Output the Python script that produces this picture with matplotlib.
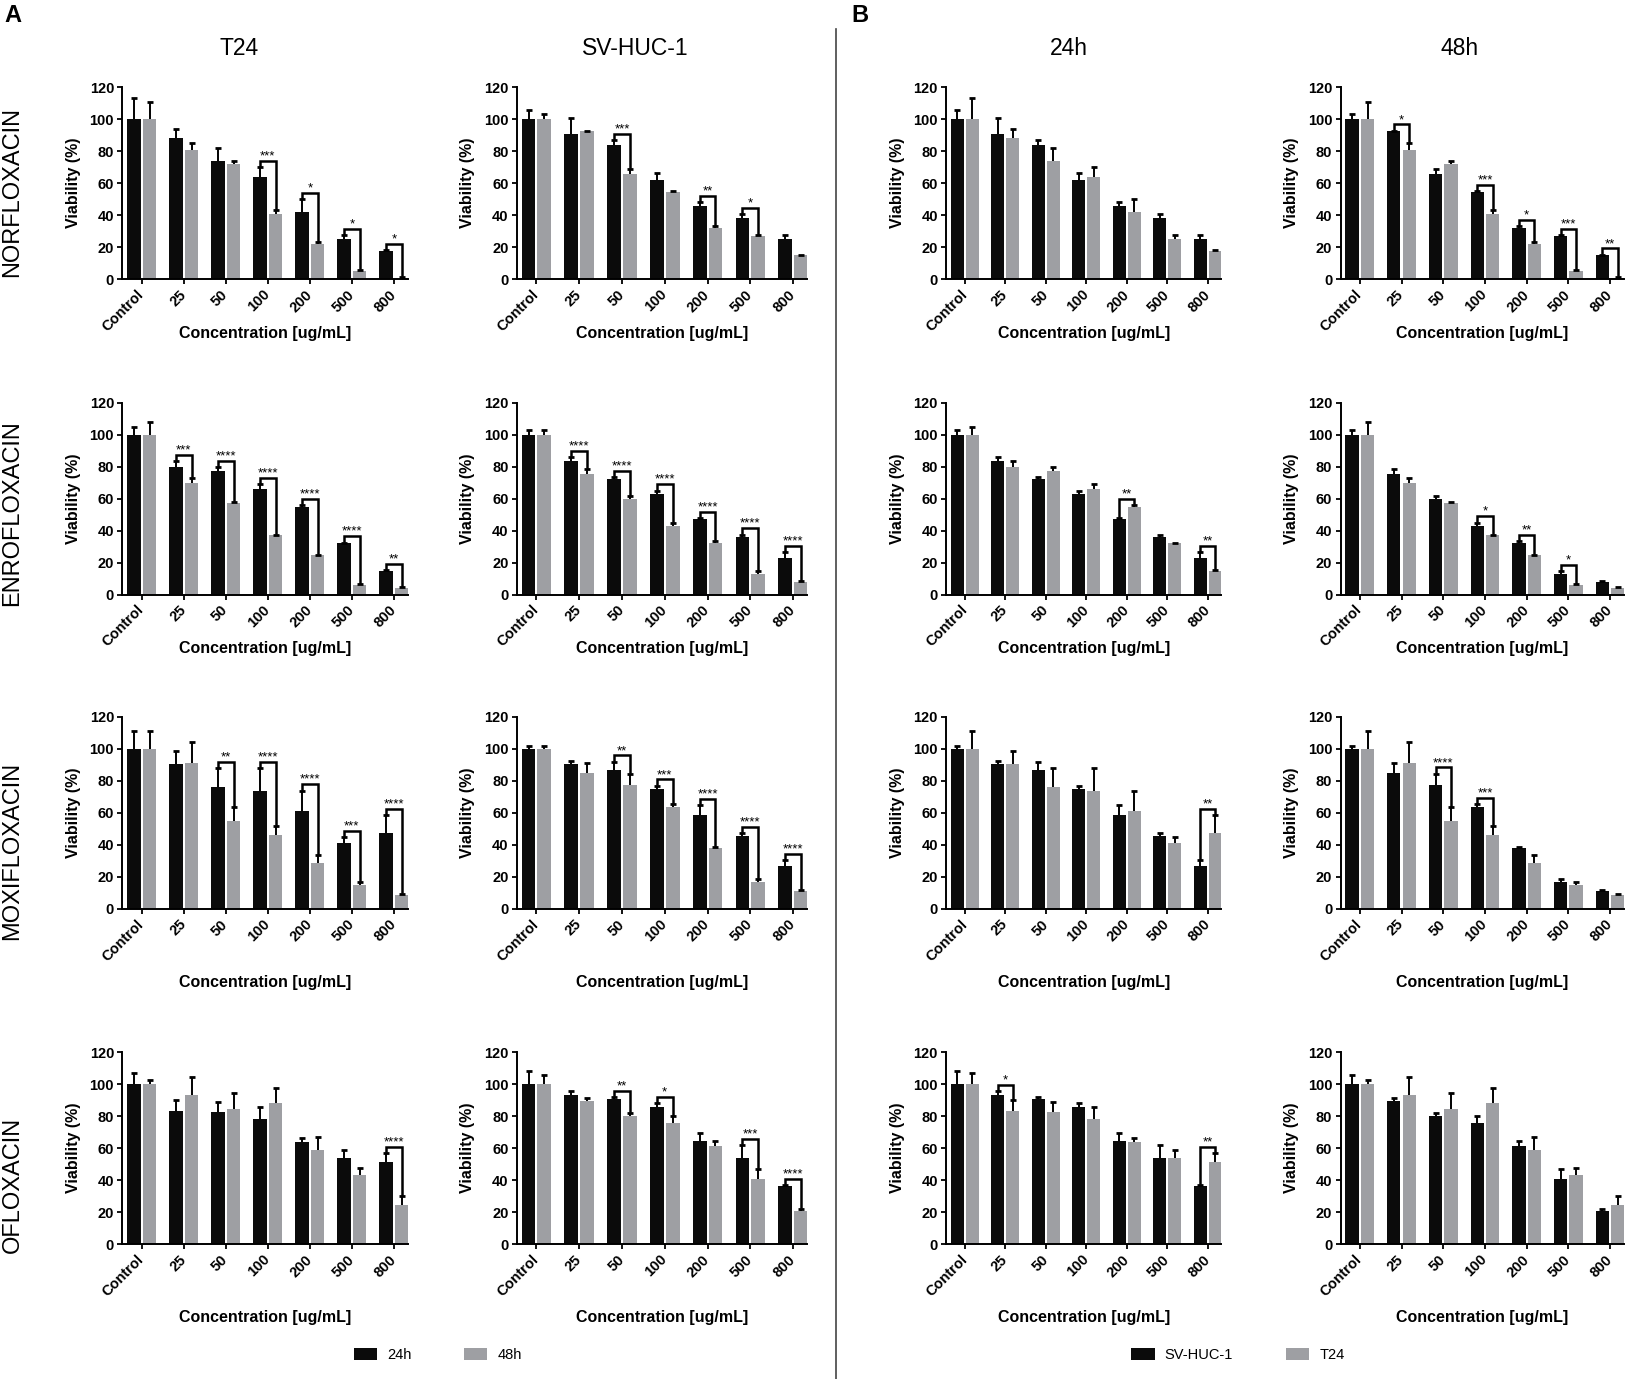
import numpy as np
import matplotlib.pyplot as plt
from matplotlib.patches import Patch

plt.rcParams['font.family'] = ['Liberation Sans', 'DejaVu Sans']

conc = ['Control', '25', '50', '100', '200', '500', '800']
drugs = ['NORFLOXACIN', 'ENROFLOXACIN', 'MOXIFLOXACIN', 'OFLOXACIN']

# viability (%) means and SD
t24_24h = {
    'NORFLOXACIN': [100, 88, 74, 64, 42, 25, 17.5],
    'ENROFLOXACIN': [100, 80, 77, 66, 55, 32, 15],
    'MOXIFLOXACIN': [100, 90.5, 76, 73.5, 61, 41.5, 47.5],
    'OFLOXACIN': [100, 83, 82.5, 78, 64, 54, 51.5],
}
t24_24h_err = {
    'NORFLOXACIN': [13, 6, 8, 6, 8, 2.5, 0.5],
    'ENROFLOXACIN': [5, 3.5, 2.5, 3, 1, 0.5, 0.3],
    'MOXIFLOXACIN': [11, 8, 12, 14.5, 13, 3.5, 11],
    'OFLOXACIN': [7, 7, 6.5, 8, 2.5, 5, 5.5],
}
t24_48h = {
    'NORFLOXACIN': [100, 81, 72, 41, 22, 5, 1],
    'ENROFLOXACIN': [100, 70, 57, 37, 24.5, 6, 4],
    'MOXIFLOXACIN': [100, 91.5, 55, 46.5, 28.5, 15, 9],
    'OFLOXACIN': [100, 93, 84.5, 88.5, 59, 43, 24.5],
}
t24_48h_err = {
    'NORFLOXACIN': [11, 4, 2, 2.5, 1, 0.8, 0.3],
    'ENROFLOXACIN': [8, 3, 1, 0.5, 0.3, 0.3, 0.5],
    'MOXIFLOXACIN': [11, 13, 8.5, 5.5, 5, 2, 0.5],
    'OFLOXACIN': [2.5, 11.5, 10, 9, 8, 4.5, 5.5],
}
sv_24h = {
    'NORFLOXACIN': [100, 91, 84, 62, 46, 38, 25],
    'ENROFLOXACIN': [100, 83.5, 72.5, 63, 47.5, 36, 23],
    'MOXIFLOXACIN': [100, 90.5, 87, 75, 59, 45.5, 27],
    'OFLOXACIN': [100, 93, 91, 85.5, 64.5, 54, 36.5],
}
sv_24h_err = {
    'NORFLOXACIN': [6, 10, 3, 4.5, 2, 2.5, 2.5],
    'ENROFLOXACIN': [3, 2.5, 1, 2, 0.3, 1.5, 3.5],
    'MOXIFLOXACIN': [2, 2, 5, 2, 6, 2, 3.5],
    'OFLOXACIN': [8, 2.5, 1, 2.5, 5, 8, 0.5],
}
sv_48h = {
    'NORFLOXACIN': [100, 92.5, 66, 54.5, 32, 27, 15],
    'ENROFLOXACIN': [100, 75.5, 59.5, 43, 32, 13, 8],
    'MOXIFLOXACIN': [100, 85, 77.5, 64, 38, 17, 11.5],
    'OFLOXACIN': [100, 89.5, 80, 76, 61.5, 40.5, 21],
}
sv_48h_err = {
    'NORFLOXACIN': [3.5, 0.3, 3, 0.5, 1, 0.3, 0.3],
    'ENROFLOXACIN': [3, 3, 2, 2, 1.5, 1.5, 0.3],
    'MOXIFLOXACIN': [2, 6.5, 7, 1.5, 1, 2, 0.5],
    'OFLOXACIN': [6, 2, 2, 4, 3, 6.5, 1],
}

# significance marks: concentration index -> stars
sig_t24 = {
    'NORFLOXACIN': {3: '***', 4: '*', 5: '*', 6: '*'},
    'ENROFLOXACIN': {1: '***', 2: '****', 3: '****', 4: '****', 5: '****', 6: '**'},
    'MOXIFLOXACIN': {2: '**', 3: '****', 4: '****', 5: '***', 6: '****'},
    'OFLOXACIN': {6: '****'},
}
sig_sv = {
    'NORFLOXACIN': {2: '***', 4: '**', 5: '*'},
    'ENROFLOXACIN': {1: '****', 2: '****', 3: '****', 4: '****', 5: '****', 6: '****'},
    'MOXIFLOXACIN': {2: '**', 3: '***', 4: '****', 5: '****', 6: '****'},
    'OFLOXACIN': {2: '**', 3: '*', 5: '***', 6: '****'},
}
sig_24h = {
    'NORFLOXACIN': {},
    'ENROFLOXACIN': {4: '**', 6: '**'},
    'MOXIFLOXACIN': {6: '**'},
    'OFLOXACIN': {1: '*', 6: '**'},
}
sig_48h = {
    'NORFLOXACIN': {1: '*', 3: '***', 4: '*', 5: '***', 6: '**'},
    'ENROFLOXACIN': {3: '*', 4: '**', 5: '*'},
    'MOXIFLOXACIN': {2: '****', 3: '***'},
    'OFLOXACIN': {},
}

BLACK = '#0b0b0b'
GRAY = '#9e9fa3'
W = 0.32
OFF = 0.185

fig = plt.figure(figsize=(16.27, 13.79), dpi=100)
VW, VH = 1568.0, 1329.0
col_px = [(118, 275), (498, 280), (912, 265), (1292, 273)]
row_zero_px = [269, 573, 876, 1199]
ax_h_px = 185
xlab_px = [52, 52, 71, 71]


def panel(ax, black, black_err, gray, gray_err, sig, xlab_off, width_px):
    x = np.arange(len(conc))
    ax.bar(x - OFF, black, W, color=BLACK, zorder=2)
    ax.bar(x + OFF, gray, W, color=GRAY, zorder=2)
    for xs, v, e in [(x - OFF, black, black_err), (x + OFF, gray, gray_err)]:
        _, caps, _ = ax.errorbar(xs, v, yerr=[np.zeros(len(v)), e], fmt='none',
                                 ecolor='black', elinewidth=1.4, capsize=2,
                                 capthick=2, zorder=3, clip_on=False)
        caps[0].set_visible(False)
    for i, stars in sig.items():
        bt = black[i] + black_err[i]
        gt = gray[i] + gray_err[i]
        h = max(bt, gt) + 4
        ax.plot([i - OFF, i - OFF, i + OFF, i + OFF], [bt + 1, h, h, gt + 1],
                color='black', lw=1.8, solid_joinstyle='miter', zorder=4, clip_on=False)
        ax.text(i, h + 0.8, stars, ha='center', va='baseline', fontsize=9.5)
    ax.set_xlim(-0.46, 6.33)
    ax.set_ylim(0, 120)
    ax.set_yticks(range(0, 121, 20))
    ax.set_xticks(x)
    ax.set_xticklabels(conc, rotation=45, ha='right', va='center',
                       rotation_mode='anchor', fontweight='bold', fontsize=10.5)
    for lab in ax.get_yticklabels():
        lab.set_fontweight('bold')
        lab.set_fontsize(10.5)
    ax.tick_params(direction='out', length=3.5, width=1.3, pad=2.5)
    ax.tick_params(axis='x', pad=6)
    for s in ['top', 'right']:
        ax.spines[s].set_visible(False)
    for s in ['left', 'bottom']:
        ax.spines[s].set_linewidth(1.4)
    ax.set_xlabel('Concentration [ug/mL]', fontsize=11.5, fontweight='bold', va='center')
    ax.xaxis.set_label_coords(0.5, -xlab_off / ax_h_px)
    ax.set_ylabel('Viability (%)', fontsize=11.5, fontweight='bold', va='center')
    ax.yaxis.set_label_coords(-47 / width_px, 0.5)


for r, d in enumerate(drugs):
    bottom = 1 - row_zero_px[r] / VH
    sets = [
        (t24_24h[d], t24_24h_err[d], t24_48h[d], t24_48h_err[d], sig_t24[d]),
        (sv_24h[d], sv_24h_err[d], sv_48h[d], sv_48h_err[d], sig_sv[d]),
        (sv_24h[d], sv_24h_err[d], t24_24h[d], t24_24h_err[d], sig_24h[d]),
        (sv_48h[d], sv_48h_err[d], t24_48h[d], t24_48h_err[d], sig_48h[d]),
    ]
    for c, (b, be, g, ge, sg) in enumerate(sets):
        left, wpx = col_px[c]
        ax = fig.add_axes([left / VW, bottom, wpx / VW, ax_h_px / VH])
        panel(ax, b, be, g, ge, sg, xlab_px[r], wpx)

# row labels
row_label_y = [185, 495, 820, 1142]
for d, yy in zip(drugs, row_label_y):
    fig.text(12 / VW, 1 - yy / VH, d, rotation=90, ha='center', va='center', fontsize=17)

# column titles and panel letters
for t, xx in zip(['T24', 'SV-HUC-1', '24h', '48h'], [230, 612, 1030, 1407]):
    fig.text(xx / VW, 1 - 47 / VH, t, ha='center', va='center', fontsize=16.5)
fig.text(12 / VW, 1 - 15 / VH, 'A', ha='center', va='center', fontsize=17, fontweight='bold')
fig.text(829 / VW, 1 - 15 / VH, 'B', ha='center', va='center', fontsize=17, fontweight='bold')

# divider between A and B
fig.add_artist(plt.Line2D([806 / VW, 806 / VW], [0, 1 - 28 / VH], color='#444444', lw=1.2))

# legends
fig.legend(handles=[Patch(facecolor=BLACK), Patch(facecolor=GRAY)], labels=['24h', '48h'],
           loc='center', bbox_to_anchor=(422 / VW, 1 - 1306 / VH), ncol=2, frameon=False,
           fontsize=10.5, handlelength=1.6, handleheight=0.9, handletextpad=0.7,
           columnspacing=3.6)
fig.legend(handles=[Patch(facecolor=BLACK), Patch(facecolor=GRAY)], labels=['SV-HUC-1', 'T24'],
           loc='center', bbox_to_anchor=(1193 / VW, 1 - 1306 / VH), ncol=2, frameon=False,
           fontsize=10.5, handlelength=1.6, handleheight=0.9, handletextpad=0.7,
           columnspacing=3.6)

fig.savefig('out.png', dpi=100)
